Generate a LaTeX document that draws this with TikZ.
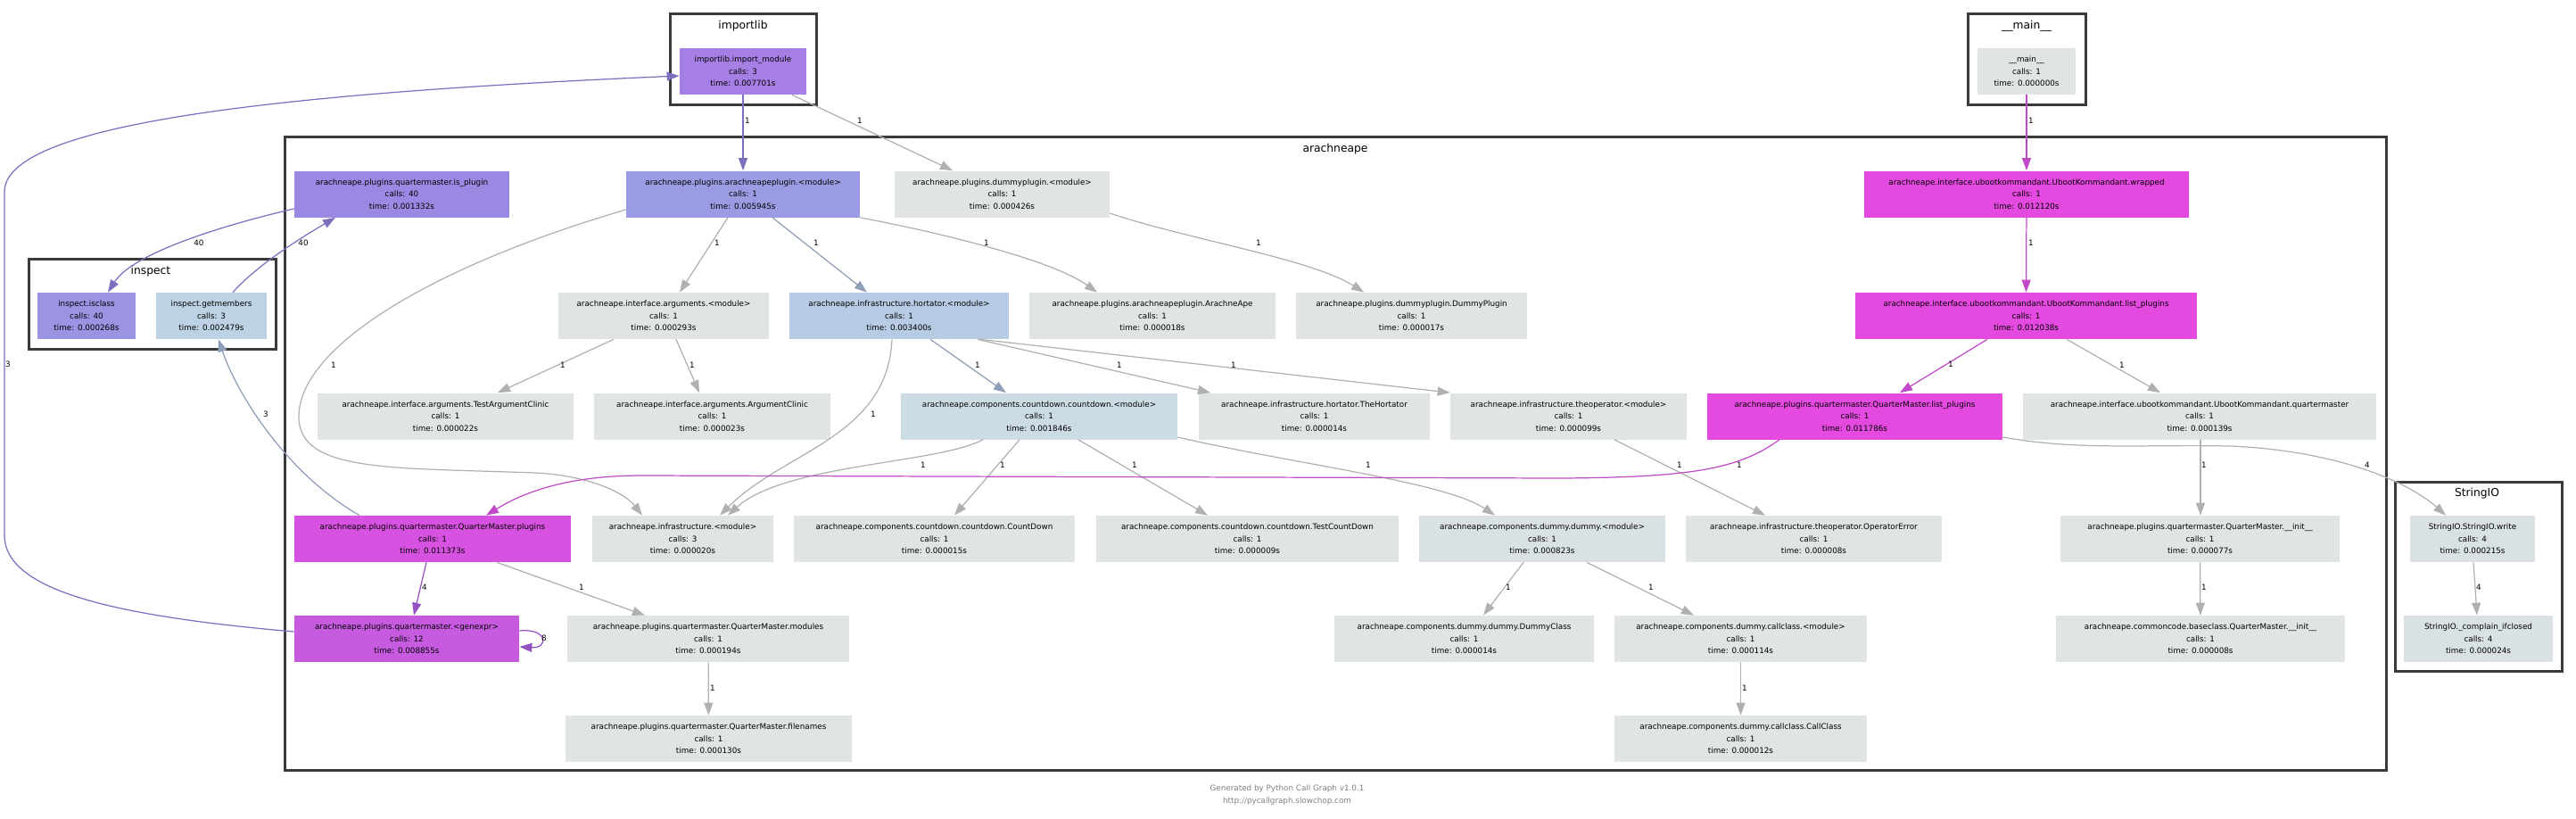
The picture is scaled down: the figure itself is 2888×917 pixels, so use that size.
\documentclass[tikz,border=0pt]{standalone}
\usepackage{fontspec}
\setmainfont{DejaVu Sans}
\usepackage{tikz}
\usetikzlibrary{arrows.meta, positioning}
\usepackage{xcolor}
\definecolor{impviolet}{HTML}{A67FE4}
\definecolor{plugviolet}{HTML}{9B88E2}
\definecolor{apblue}{HTML}{9B9BE3}
\definecolor{isclsblue}{HTML}{9B94E3}
\definecolor{getmemblue}{HTML}{BDD2E4}
\definecolor{hortblue}{HTML}{B7CBE5}
\definecolor{cdblue}{HTML}{CCDCE4}
\definecolor{dumblue}{HTML}{D9E1E4}
\definecolor{callgray}{HTML}{E1E4E4}
\definecolor{hotmagenta}{HTML}{E44AE0}
\definecolor{plugmagenta}{HTML}{D752E0}
\definecolor{genviolet}{HTML}{C65BE0}
\definecolor{edgeviolet}{HTML}{7F6EC0}
\definecolor{edgegray}{HTML}{B0B0B0}
\definecolor{edgeslate}{HTML}{8E9EB6}
\definecolor{edgemagenta}{HTML}{C04AC8}
\definecolor{edgepurple}{HTML}{9352C0}
\definecolor{clusline}{HTML}{3A3A3A}
\definecolor{footgray}{HTML}{808080}
\newcommand{\callfont}{\fontsize{5}{7.6}\selectfont}
\newcommand{\clusfont}{\fontsize{7}{8}\selectfont}

\begin{document}
\begin{tikzpicture}[
        x=0.2mm, y=-0.2mm,
        box/.style={rectangle, inner sep=0pt, minimum height=10.4mm,
                    align=center, font=\callfont, text=black},
        clus/.style={draw=clusline, line width=0.6mm},
        ctitle/.style={font=\clusfont, inner sep=0pt},
        elbl/.style={font=\callfont, inner sep=0pt, text=black},
        edge/.style={line width=0.7pt, -{Triangle[length=2.8mm, width=2mm]}},
        pe/.style={edge, draw=edgeviolet},
        ge/.style={edge, draw=edgegray},
        be/.style={edge, draw=edgeslate},
        me/.style={edge, draw=edgemagenta},
        ve/.style={edge, draw=edgepurple},
      ]
        \useasboundingbox (0,0) rectangle (2888,917);

        % clusters
        \draw[clus] (751,15) rectangle (915,117);
        \node[ctitle] (tImportlib) at (833,29) {importlib};
        \draw[clus] (2206,15) rectangle (2338,117);
        \node[ctitle] (tMain) at (2272,29) {\_\_main\_\_};
        \draw[clus] (319,153) rectangle (2675,863);
        \node[ctitle] (tArachne) at (1497,167) {arachneape};
        \draw[clus] (32,290) rectangle (309,391);
        \node[ctitle] (tInspect) at (169,304) {inspect};
        \draw[clus] (2685,540) rectangle (2872,752);
        \node[ctitle] (tStringio) at (2777,553) {StringIO};

        % row 0
        \node[box, fill=impviolet, minimum width=28.4mm] (imp) at (833,80)
          {importlib.import\_module\\calls: 3\\time: 0.007701s};
        \node[box, fill=callgray, minimum width=22mm] (mainnode) at (2272,80)
          {\_\_main\_\_\\calls: 1\\time: 0.000000s};

        % row 1
        \node[box, fill=plugviolet, minimum width=48.2mm] (isplug) at (450.5,217.5)
          {arachneape.plugins.quartermaster.is\_plugin\\calls: 40\\time: 0.001332s};
        \node[box, fill=apblue, minimum width=52.4mm] (apmod) at (833,217.5)
          {arachneape.plugins.arachneapeplugin.<module>\\calls: 1\\time: 0.005945s};
        \node[box, fill=callgray, minimum width=48.2mm] (dpmod) at (1123.5,217.5)
          {arachneape.plugins.dummyplugin.<module>\\calls: 1\\time: 0.000426s};
        \node[box, fill=hotmagenta, minimum width=72.8mm] (wrapped) at (2272,217.5)
          {arachneape.interface.ubootkommandant.UbootKommandant.wrapped\\calls: 1\\time: 0.012120s};

        % row 2
        \node[box, fill=isclsblue, minimum width=22mm] (isclass) at (97,354)
          {inspect.isclass\\calls: 40\\time: 0.000268s};
        \node[box, fill=getmemblue, minimum width=24.8mm] (getmem) at (237,354)
          {inspect.getmembers\\calls: 3\\time: 0.002479s};
        \node[box, fill=callgray, minimum width=47.2mm] (argmod) at (744,354)
          {arachneape.interface.arguments.<module>\\calls: 1\\time: 0.000293s};
        \node[box, fill=hortblue, minimum width=49.2mm] (hortmod) at (1008,354)
          {arachneape.infrastructure.hortator.<module>\\calls: 1\\time: 0.003400s};
        \node[box, fill=callgray, minimum width=55.2mm] (arape) at (1292,354)
          {arachneape.plugins.arachneapeplugin.ArachneApe\\calls: 1\\time: 0.000018s};
        \node[box, fill=callgray, minimum width=51.8mm] (dplug) at (1582.5,354)
          {arachneape.plugins.dummyplugin.DummyPlugin\\calls: 1\\time: 0.000017s};
        \node[box, fill=hotmagenta, minimum width=76.6mm] (uklist) at (2271.5,354)
          {arachneape.interface.ubootkommandant.UbootKommandant.list\_plugins\\calls: 1\\time: 0.012038s};

        % row 3
        \node[box, fill=callgray, minimum width=57.4mm] (testarg) at (499.5,466.5)
          {arachneape.interface.arguments.TestArgumentClinic\\calls: 1\\time: 0.000022s};
        \node[box, fill=callgray, minimum width=53mm] (argclin) at (798.5,466.5)
          {arachneape.interface.arguments.ArgumentClinic\\calls: 1\\time: 0.000023s};
        \node[box, fill=cdblue, minimum width=62mm] (cdmod) at (1165,466.5)
          {arachneape.components.countdown.countdown.<module>\\calls: 1\\time: 0.001846s};
        \node[box, fill=callgray, minimum width=51.8mm] (thehort) at (1473.5,466.5)
          {arachneape.infrastructure.hortator.TheHortator\\calls: 1\\time: 0.000014s};
        \node[box, fill=callgray, minimum width=53mm] (opmod) at (1758.5,466.5)
          {arachneape.infrastructure.theoperator.<module>\\calls: 1\\time: 0.000099s};
        \node[box, fill=hotmagenta, minimum width=66.2mm] (qmlist) at (2079.5,466.5)
          {arachneape.plugins.quartermaster.QuarterMaster.list\_plugins\\calls: 1\\time: 0.011786s};
        \node[box, fill=callgray, minimum width=79.2mm] (ukqm) at (2466,466.5)
          {arachneape.interface.ubootkommandant.UbootKommandant.quartermaster\\calls: 1\\time: 0.000139s};

        % row 4
        \node[box, fill=plugmagenta, minimum width=62mm] (qmplug) at (485,604)
          {arachneape.plugins.quartermaster.QuarterMaster.plugins\\calls: 1\\time: 0.011373s};
        \node[box, fill=callgray, minimum width=40.6mm] (infmod) at (765.5,604)
          {arachneape.infrastructure.<module>\\calls: 3\\time: 0.000020s};
        \node[box, fill=callgray, minimum width=63mm] (cdown) at (1047.5,604)
          {arachneape.components.countdown.countdown.CountDown\\calls: 1\\time: 0.000015s};
        \node[box, fill=callgray, minimum width=67.8mm] (tcdown) at (1398.5,604)
          {arachneape.components.countdown.countdown.TestCountDown\\calls: 1\\time: 0.000009s};
        \node[box, fill=dumblue, minimum width=55.2mm] (dummod) at (1729,604)
          {arachneape.components.dummy.dummy.<module>\\calls: 1\\time: 0.000823s};
        \node[box, fill=callgray, minimum width=57.4mm] (operr) at (2033.5,604)
          {arachneape.infrastructure.theoperator.OperatorError\\calls: 1\\time: 0.000008s};
        \node[box, fill=callgray, minimum width=62.6mm] (qminit) at (2466.5,604)
          {arachneape.plugins.quartermaster.QuarterMaster.\_\_init\_\_\\calls: 1\\time: 0.000077s};
        \node[box, fill=dumblue, minimum width=28mm] (siowrite) at (2772,604)
          {StringIO.StringIO.write\\calls: 4\\time: 0.000215s};

        % row 5
        \node[box, fill=genviolet, minimum width=50.4mm] (genexpr) at (456,716)
          {arachneape.plugins.quartermaster.<genexpr>\\calls: 12\\time: 0.008855s};
        \node[box, fill=callgray, minimum width=63.2mm] (qmmods) at (794,716)
          {arachneape.plugins.quartermaster.QuarterMaster.modules\\calls: 1\\time: 0.000194s};
        \node[box, fill=callgray, minimum width=58.2mm] (dumcls) at (1641.5,716)
          {arachneape.components.dummy.dummy.DummyClass\\calls: 1\\time: 0.000014s};
        \node[box, fill=callgray, minimum width=56.6mm] (ccmod) at (1951.5,716)
          {arachneape.components.dummy.callclass.<module>\\calls: 1\\time: 0.000114s};
        \node[box, fill=callgray, minimum width=64.8mm] (bcinit) at (2467,716)
          {arachneape.commoncode.baseclass.QuarterMaster.\_\_init\_\_\\calls: 1\\time: 0.000008s};
        \node[box, fill=dumblue, minimum width=33.4mm] (complain) at (2778.5,716)
          {StringIO.\_complain\_ifclosed\\calls: 4\\time: 0.000024s};

        % row 6
        \node[box, fill=callgray, minimum width=64.2mm] (qmfiles) at (794.5,828)
          {arachneape.plugins.quartermaster.QuarterMaster.filenames\\calls: 1\\time: 0.000130s};
        \node[box, fill=callgray, minimum width=56.6mm] (callcls) at (1951.5,828)
          {arachneape.components.dummy.callclass.CallClass\\calls: 1\\time: 0.000012s};

        % calls
        \draw[pe] (imp) -- (apmod) node[elbl] at (838,135) {1};
        \draw[ge] (888,0 |- imp.south) -- (1068,0 |- dpmod.north) node[elbl] at (964,135) {1};
        \draw[me] (mainnode) -- (wrapped) node[elbl] at (2277,135) {1};
        \draw[me] (wrapped) -- (uklist) node[elbl] at (2277,272) {1};

        \draw[pe] (isplug.west |- 0,234) .. controls (260,250) and (150,282) .. (121,0 |- isclass.north)
          node[elbl] at (223,272) {40};
        \draw[pe] (261,0 |- getmem.north) .. controls (290,295) and (345,262) .. (376,0 |- isplug.south)
          node[elbl] at (340,272) {40};
        \draw[pe] (genexpr.west |- 0,708) .. controls (120,690) and (5,660) .. (5,600) -- (5,215)
          .. controls (5,140) and (300,105) .. (imp.west |- 0,85)
          node[elbl] at (9,408) {3};
        \draw[be] (403,0 |- qmplug.north) .. controls (320,530) and (265,440) .. (245,0 |- getmem.south)
          node[elbl] at (298,464) {3};

        \draw[ge] (apmod.west |- 0,235) .. controls (480,300) and (335,390) .. (335,467)
          .. controls (335,530) and (440,524) .. (600,530) .. controls (660,533) and (700,552) .. (720,0 |- infmod.north)
          node[elbl] at (374,409) {1};
        \draw[ge] (816,0 |- apmod.south) -- (762,0 |- argmod.north) node[elbl] at (804,272) {1};
        \draw[be] (866,0 |- apmod.south) -- (972,0 |- hortmod.north) node[elbl] at (915,272) {1};
        \draw[ge] (apmod.south east) .. controls (1060,262) and (1180,292) .. (1230,0 |- arape.north)
          node[elbl] at (1106,272) {1};
        \draw[ge] (dpmod.east |- 0,239) .. controls (1330,268) and (1470,290) .. (1529,0 |- dplug.north)
          node[elbl] at (1411,272) {1};

        \draw[ge] (688,0 |- argmod.south) -- (558,0 |- testarg.north) node[elbl] at (631,409) {1};
        \draw[ge] (758,0 |- argmod.south) -- (784,0 |- argclin.north) node[elbl] at (776,409) {1};
        \draw[ge] (1000,0 |- hortmod.south) .. controls (995,490) and (880,505) .. (807,0 |- infmod.north)
          node[elbl] at (979,464) {1};
        \draw[be] (1043,0 |- hortmod.south) -- (1128,0 |- cdmod.north) node[elbl] at (1096,409) {1};
        \draw[ge] (1096,0 |- hortmod.south) -- (1357,0 |- thehort.north) node[elbl] at (1255,409) {1};
        \draw[ge] (1099,0 |- hortmod.south) -- (opmod.north west) node[elbl] at (1383,409) {1};
        \draw[me] (2228,0 |- uklist.south) -- (2130,0 |- qmlist.north) node[elbl] at (2187,408) {1};
        \draw[ge] (2317,0 |- uklist.south) -- (2422,0 |- ukqm.north) node[elbl] at (2379,409) {1};

        \draw[ge] (1102,0 |- cdmod.south) .. controls (1050,520) and (880,520) .. (816,0 |- infmod.north)
          node[elbl] at (1035,521) {1};
        \draw[ge] (1143,0 |- cdmod.south) -- (1070,0 |- cdown.north) node[elbl] at (1124,521) {1};
        \draw[ge] (1209,0 |- cdmod.south) -- (1354,0 |- tcdown.north) node[elbl] at (1272,521) {1};
        \draw[ge] (cdmod.east |- 0,490) .. controls (1450,520) and (1620,540) .. (1676,0 |- dummod.north)
          node[elbl] at (1534,521) {1};
        \draw[ge] (1810,0 |- opmod.south) -- (1979,0 |- operr.north) node[elbl] at (1883,521) {1};
        \draw[me] (1995,0 |- qmlist.south) .. controls (1950,525) and (1900,535) .. (1750,536) -- (720,533)
          .. controls (640,533) and (590,550) .. (545,0 |- qmplug.north)
          node[elbl] at (1950,521) {1};
        \draw[ge] (qmlist.east |- 0,490) .. controls (2330,505) and (2400,498) .. (2500,500)
          .. controls (2620,505) and (2700,540) .. (2742,0 |- siowrite.north)
          node[elbl] at (2654,521) {4};
        \draw[ge] (2467,0 |- ukqm.south) -- (2467,0 |- qminit.north) node[elbl] at (2471,521) {1};

        \draw[ve] (478,0 |- qmplug.south) -- (464,0 |- genexpr.north) node[elbl] at (476,658) {4};
        \draw[ge] (557,0 |- qmplug.south) -- (723,0 |- qmmods.north) node[elbl] at (652,658) {1};
        \draw[ge] (1708,0 |- dummod.south) -- (1663,0 |- dumcls.north) node[elbl] at (1691,658) {1};
        \draw[ge] (1779,0 |- dummod.south) -- (1899,0 |- ccmod.north) node[elbl] at (1851,658) {1};
        \draw[ge] (qminit) -- (bcinit) node[elbl] at (2471,658) {1};
        \draw[ge] (2773,0 |- siowrite.south) -- (2777,0 |- complain.north) node[elbl] at (2779,658) {4};

        \draw[ve] (genexpr.east |- 0,707) .. controls (615,704) and (615,727) .. (genexpr.east |- 0,725)
          node[elbl] at (610,715) {8};
        \draw[ge] (qmmods) -- (qmfiles) node[elbl] at (799,771) {1};
        \draw[ge] (ccmod) -- (callcls) node[elbl] at (1956,771) {1};

        % footer
        \node[font=\callfont, text=footgray, align=center] (footer) at (1443,891)
          {Generated by Python Call Graph v1.0.1\\http://pycallgraph.slowchop.com};
      \end{tikzpicture}
\end{document}
